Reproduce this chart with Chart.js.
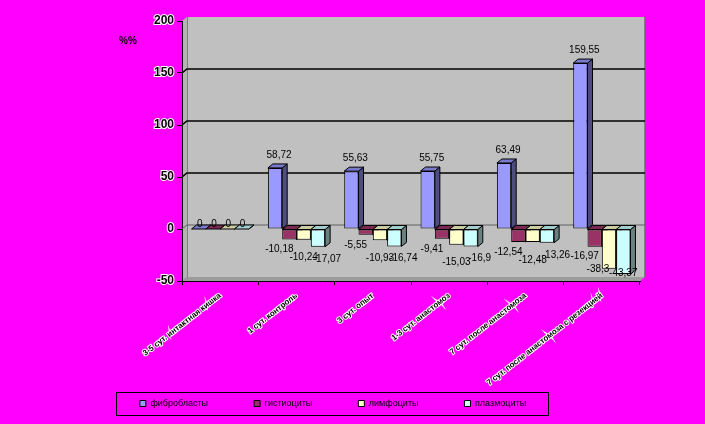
<!DOCTYPE html>
<html>
<head>
<meta charset="utf-8">
<script src="https://cdn.jsdelivr.net/npm/chart.js@4/dist/chart.umd.min.js"></script>
<style>
  html, body { margin: 0; padding: 0; background: #ff00ff; }
  #wrap { width: 705px; height: 424px; }
</style>
</head>
<body>
<div id="wrap"><canvas id="chart"></canvas></div>
<script>
// data
const categories = [
    '3-5 сут. интактная кишка',
    '1 сут. контроль',
    '3 сут. опыт',
    '1-3 сут. анастомоз',
    '7 сут. после анастомоза',
    '7 сут. после анастомоза с резекцией'
];
const seriesNames = ['фибробласты', 'гистиоциты', 'лимфоциты', 'плазмоциты'];
const fibroblasts = [0, 58.72, 55.63, 55.75, 63.49, 159.55];
const histiocytes = [0, -10.18, -5.55, -9.41, -12.54, -16.97];
const lymphocytes = [0, -10.24, -10.93, -15.03, -12.48, -38.3];
const plasmocytes = [0, -17.07, -16.74, -16.9, -13.26, -43.37];
const yMin = -50, yMax = 200, yStep = 50;

const frontColors = ['#9999ff', '#993366', '#ffffcc', '#ccffff'];
const topColors = ['#7a7acc', '#7a2952', '#cccca3', '#a3cccc'];
const sideColors = ['#4d4d80', '#4d1a33', '#80806b', '#6b8080'];
const FONT = 'Arial, "Liberation Sans", sans-serif';
const DX = 5, DY = -4;

// back wall, side wall, floor and gridlines drawn with a slight depth
const walls = {
    id: 'walls',
    beforeDraw(chart) {
        const { ctx, chartArea: a } = chart;
        ctx.save();
        ctx.fillStyle = '#c0c0c0';
        ctx.fillRect(a.left + DX, a.top + DY, a.right - a.left, a.bottom - a.top);
        ctx.fillStyle = '#b4b4b4';
        ctx.beginPath();
        ctx.moveTo(a.left, a.top); ctx.lineTo(a.left + DX, a.top + DY);
        ctx.lineTo(a.left + DX, a.bottom + DY); ctx.lineTo(a.left, a.bottom);
        ctx.closePath(); ctx.fill();
        ctx.fillStyle = '#9c9c9c';
        ctx.beginPath();
        ctx.moveTo(a.left, a.bottom); ctx.lineTo(a.left + DX, a.bottom + DY);
        ctx.lineTo(a.right + DX, a.bottom + DY); ctx.lineTo(a.right, a.bottom);
        ctx.closePath(); ctx.fill();
        ctx.strokeStyle = '#808080';
        ctx.lineWidth = 1;
        ctx.beginPath();
        ctx.moveTo(a.left + DX + 0.5, a.top + DY); ctx.lineTo(a.left + DX + 0.5, a.bottom + DY);
        ctx.moveTo(a.right + DX - 0.5, a.top + DY); ctx.lineTo(a.right + DX - 0.5, a.bottom + DY);
        ctx.stroke();
        ctx.restore();
    },
    beforeDatasetsDraw(chart) {
        const { ctx, chartArea: a, scales } = chart;
        const y = scales.y;
        ctx.save();
        [0, 50, 100, 150].forEach((v) => {
            const py = y.getPixelForValue(v);
            ctx.strokeStyle = v === 0 ? '#606060' : '#000';
            ctx.lineWidth = v === 0 ? 1 : 1.6;
            ctx.beginPath();
            ctx.moveTo(a.left, py);
            ctx.lineTo(a.left + DX, py + DY);
            ctx.lineTo(a.right + DX, py + DY);
            ctx.stroke();
        });
        ctx.restore();
    }
};

function drawFaces(ctx, bar, i) {
    const p = bar.getProps(['x', 'y', 'base', 'width'], true);
    const l = p.x - p.width / 2, r = p.x + p.width / 2;
    const top = Math.min(p.y, p.base), bot = Math.max(p.y, p.base);
    ctx.save();
    ctx.lineWidth = 1;
    ctx.strokeStyle = '#000';
    ctx.beginPath();
    ctx.moveTo(r, top); ctx.lineTo(r + DX, top + DY);
    ctx.lineTo(r + DX, bot + DY); ctx.lineTo(r, bot);
    ctx.closePath();
    ctx.fillStyle = sideColors[i]; ctx.fill(); ctx.stroke();
    ctx.beginPath();
    ctx.moveTo(l, top); ctx.lineTo(l + DX, top + DY);
    ctx.lineTo(r + DX, top + DY); ctx.lineTo(r, top);
    ctx.closePath();
    ctx.fillStyle = topColors[i]; ctx.fill(); ctx.stroke();
    ctx.restore();
}

// bars drawn left to right so each one hides the side of the one before
const bar3d = {
    id: 'bar3d',
    beforeDatasetsDraw(chart) {
        const ctx = chart.ctx;
        chart.data.datasets.forEach((ds, i) => {
            chart.getDatasetMeta(i).data.forEach((bar) => {
                bar.draw(ctx, chart.chartArea);
                drawFaces(ctx, bar, i);
            });
        });
        return false;
    }
};

// value labels, "58,72" style
const valueLabels = {
    id: 'valueLabels',
    afterDraw(chart) {
        const { ctx, chartArea: a } = chart;
        const offs = [[4, -13], [-10, 10], [0, 18], [9, 12]];
        ctx.save();
        ctx.font = '10px ' + FONT;
        ctx.fillStyle = '#000';
        ctx.textAlign = 'center';
        ctx.textBaseline = 'middle';
        chart.data.datasets.forEach((ds, i) => {
            chart.getDatasetMeta(i).data.forEach((bar, j) => {
                const v = ds.data[j];
                let x = bar.x, y = bar.y;
                if (v === 0) { x += 1; y -= 5; }
                else if (v > 0) { x += offs[0][0]; y += offs[0][1]; }
                else if (y + offs[i][1] > a.bottom - 8) {
                    x += (i === 2 ? -11 : 0);
                    y = Math.min(y, a.bottom - 8);
                } else { x += offs[i][0]; y += offs[i][1]; }
                ctx.fillText(String(v).replace('.', ','), x, y);
            });
        });
        ctx.restore();
    }
};

// frame round the legend
const legendFrame = {
    id: 'legendFrame',
    afterDraw(chart) {
        const boxes = chart.legend.legendHitBoxes;
        if (!boxes || !boxes.length) return;
        const ctx = chart.ctx;
        const x0 = boxes[0].left - 24;
        const x1 = boxes[boxes.length - 1].left + boxes[boxes.length - 1].width + 22;
        const y0 = Math.min(...boxes.map(b => b.top)) - 7;
        const y1 = Math.max(...boxes.map(b => b.top + b.height)) + 7;
        ctx.save();
        ctx.strokeStyle = '#000';
        ctx.lineWidth = 1;
        ctx.strokeRect(Math.round(x0) + 0.5, Math.round(y0) + 0.5, Math.round(x1 - x0), Math.round(y1 - y0));
        ctx.restore();
    }
};

const seriesData = [fibroblasts, histiocytes, lymphocytes, plasmocytes];
const legendGap = '\u2003\u2003\u2003\u2003';

new Chart(document.getElementById('chart'), {
    type: 'bar',
    data: {
        labels: categories,
        datasets: seriesData.map((d, i) => ({
            label: seriesNames[i],
            data: d,
            backgroundColor: frontColors[i],
            borderColor: '#000',
            borderWidth: 1,
            borderSkipped: false,
            categoryPercentage: 0.75,
            barPercentage: 1
        }))
    },
    options: {
        responsive: true,
        maintainAspectRatio: false,
        animation: false,
        layout: { padding: { left: 26, right: 65, top: 21, bottom: 6 } },
        plugins: {
            title: { display: false },
            tooltip: { enabled: false },
            legend: {
                position: 'bottom',
                labels: {
                    boxWidth: 6,
                    boxHeight: 6,
                    padding: 10,
                    color: '#000',
                    font: { family: FONT, size: 9 },
                    generateLabels: (chart) => Chart.defaults.plugins.legend.labels.generateLabels(chart)
                        .map((it, k, arr) => Object.assign(it, {
                            text: k < arr.length - 1 ? it.text + legendGap : it.text
                        }))
                }
            }
        },
        scales: {
            x: {
                afterFit: (s) => { s.height = 108; },
                grid: { offset: true, drawOnChartArea: false, color: '#000', tickLength: 4 },
                border: { color: '#000', width: 1 },
                ticks: {
                    autoSkip: false,
                    minRotation: 38,
                    maxRotation: 38,
                    padding: 6,
                    color: '#000',
                    textStrokeColor: '#fff',
                    textStrokeWidth: 2,
                    font: { family: FONT, size: 8, weight: 'bold' }
                }
            },
            y: {
                min: yMin,
                max: yMax,
                afterFit: (s) => { s.width = 156; },
                grid: { drawOnChartArea: false, tickColor: '#000', tickLength: 5 },
                border: { color: '#000', width: 1 },
                ticks: {
                    stepSize: yStep,
                    padding: 3,
                    color: '#000',
                    textStrokeColor: '#fff',
                    textStrokeWidth: 2,
                    font: { family: FONT, size: 12, weight: 'bold' }
                }
            }
        }
    },
    plugins: [walls, bar3d, valueLabels, legendFrame, {
        id: 'unitLabel',
        afterDraw(chart) {
            const ctx = chart.ctx;
            ctx.save();
            ctx.font = 'bold 10px ' + FONT;
            ctx.fillStyle = '#000';
            ctx.textAlign = 'center';
            ctx.textBaseline = 'middle';
            ctx.fillText('%%', chart.chartArea.left - 54, chart.chartArea.top + 20);
            ctx.restore();
        }
    }]
});
</script>
</body>
</html>
